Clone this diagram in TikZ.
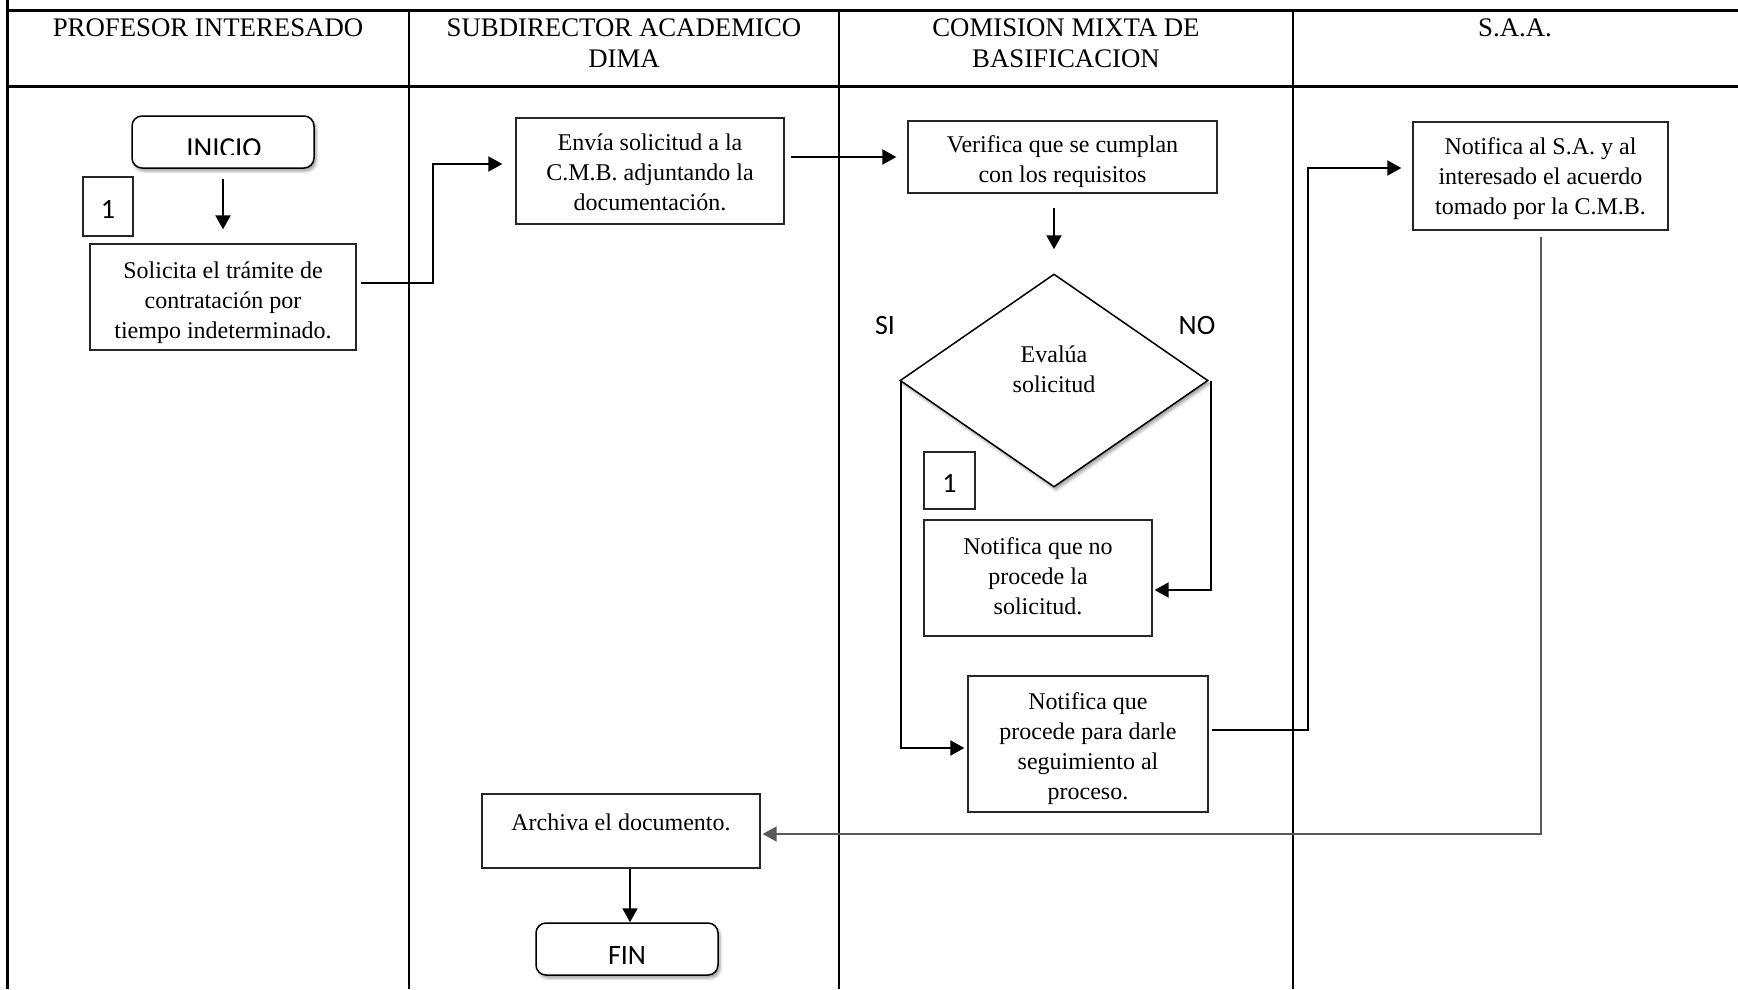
\documentclass[tikz,border=0pt]{standalone}
\usepackage{fontspec}
\setmainfont{Liberation Serif}
\newfontfamily\calibfont{Carlito}
\usetikzlibrary{shapes.geometric,arrows.meta,shadows.blur}
% invisible struts to nudge the lines of a box up or down
\newcommand\strutup[1]{\rule{0pt}{#1pt}}
\newcommand\strutdown[1]{\rule[-#1pt]{0pt}{1pt}}

\begin{document}
\begin{tikzpicture}[x=1pt,y=-1pt,
  tablerule/.style={line width=3pt},
  laneline/.style={line width=2.2pt},
  hdr/.style={font=\fontsize{26.8}{31}\selectfont, align=center, inner sep=0pt, anchor=north},
  boxtext/.style={font=\fontsize{24}{30}\selectfont, align=center},
  box/.style={boxtext, draw=black!85, line width=1.3pt, inner sep=2pt},
  softshadow/.style={blur shadow={shadow xshift=2pt, shadow yshift=-3pt, shadow blur radius=3pt, shadow opacity=40}},
  lbl/.style={font=\calibfont\fontsize{28}{30}\selectfont, inner sep=0pt},
  term/.style={lbl, draw=black, line width=1.5pt, rounded corners=10pt, fill=white,
    minimum width=182pt, minimum height=52pt, softshadow},
  numbox/.style={lbl, draw=black!85, line width=1.3pt, text height=24pt, text depth=0pt},
  arr/.style={line width=2pt, -{Triangle[length=14pt,width=15pt]}},
  arrgray/.style={arr, draw=black!65},
]
\useasboundingbox (0,0) rectangle (1738,989);

% swimlane table
\draw[tablerule] (7.5,0) -- (7.5,989);
\draw[tablerule] (6,10) -- (1738,10);
\draw[tablerule] (6,86.5) -- (1738,86.5);
\draw[laneline] (409,10) -- (409,989);
\draw[laneline] (839,10) -- (839,989);
\draw[laneline] (1293,10) -- (1293,989);

% lane headings
\node[hdr] (h1) at (208,19) {PROFESOR INTERESADO};
\node[hdr] (h2) at (624,19) {SUBDIRECTOR ACADEMICO\\DIMA};
\node[hdr] (h3) at (1066,19) {COMISION MIXTA DE\\BASIFICACION};
\node[hdr] (h4) at (1515,19) {S.A.A.};

% start terminal, its caption cut off at the bottom
\node[term] (inicio) at (223,142) {};
\begin{scope}
  \clip (inicio.north west) rectangle (inicio.east |- 0,154);
  \node[lbl, font=\calibfont\fontsize{29}{30}\selectfont, anchor=base] (iniciotxt) at (224,157) {INICIO};
\end{scope}

% process steps
\node[numbox, minimum width=50pt, minimum height=59pt] (uno) at (108,206.5) {1};
\node[box, minimum width=266pt, minimum height=106pt] (solicita) at (223,297)
  {\strutup{27.4}Solicita el trámite de\\contratación por\\tiempo indeterminado.};
\node[box, minimum width=268pt, minimum height=106pt] (envia) at (650,171)
  {\strutup{18.6}Envía solicitud a la\\C.M.B. adjuntando la\\documentación.};
\node[box, minimum width=309pt, minimum height=72pt] (verifica) at (1062.5,157)
  {\strutup{25.2}Verifica que se cumplan\\con los requisitos};
\node[diamond, draw=black, line width=1.5pt, fill=white, inner sep=0pt,
  minimum width=308pt, minimum height=213pt, softshadow,
  label={[boxtext, yshift=11pt]center:Evalúa\\solicitud}] (evalua) at (1054,380.5) {};
\node[lbl] (si) at (885,326) {SI};
\node[lbl] (no) at (1197,326) {NO};
\node[numbox, minimum width=51pt, minimum height=57pt] (dos) at (949.5,480.5) {1};
\node[box, minimum width=228pt, minimum height=116pt] (noprocede) at (1038,578)
  {Notifica que no\\procede la\\solicitud.\strutdown{4.4}};
\node[box, minimum width=240pt, minimum height=136pt] (procede) at (1088,744)
  {\strutup{26.4}Notifica que\\procede para darle\\seguimiento al\\proceso.};
\node[box, minimum width=255pt, minimum height=108pt] (notifsa) at (1540.5,176)
  {\strutup{23}Notifica al S.A. y al\\interesado el acuerdo\\tomado por la C.M.B.};
\node[box, minimum width=278pt, minimum height=74pt, text depth=18.6pt] (archiva) at (621,831)
  {Archiva el documento.};
\node[term, text height=30pt, text depth=0pt] (fin) at (627,949) {FIN};

% flow
\draw[arr, shorten <=10pt, shorten >=14pt] (inicio) -- (solicita);
\draw[arr, shorten <=4pt, shorten >=13pt] ([yshift=14pt]solicita.east) -- ++(76,0) |- ([yshift=7pt]envia.west);
\draw[arr, shorten <=6pt, shorten >=11pt] (envia.east |- verifica.west) -- (verifica.west);
\draw[arr, shorten <=14pt, shorten >=24pt] (evalua.north |- verifica.south) -- (evalua.north);
\draw[arr, shorten >=2pt] ([xshift=2pt]evalua.east) |- ([yshift=-12pt]noprocede.east);
\draw[arr, shorten >=3pt] ([xshift=2pt]evalua.west) |- ([yshift=-4pt]procede.west);
\draw[arr, shorten <=3pt, shorten >=11pt] ([yshift=14pt]procede.east) -- ++(99,0) |- ([yshift=8pt]notifsa.west);
\draw[arrgray, shorten <=6pt, shorten >=2pt] (notifsa.south) |- ([yshift=-3pt]archiva.east);
\draw[arr] ([xshift=9pt]archiva.south) -- ([xshift=9pt]archiva.south |- fin.north);
\end{tikzpicture}
\end{document}
